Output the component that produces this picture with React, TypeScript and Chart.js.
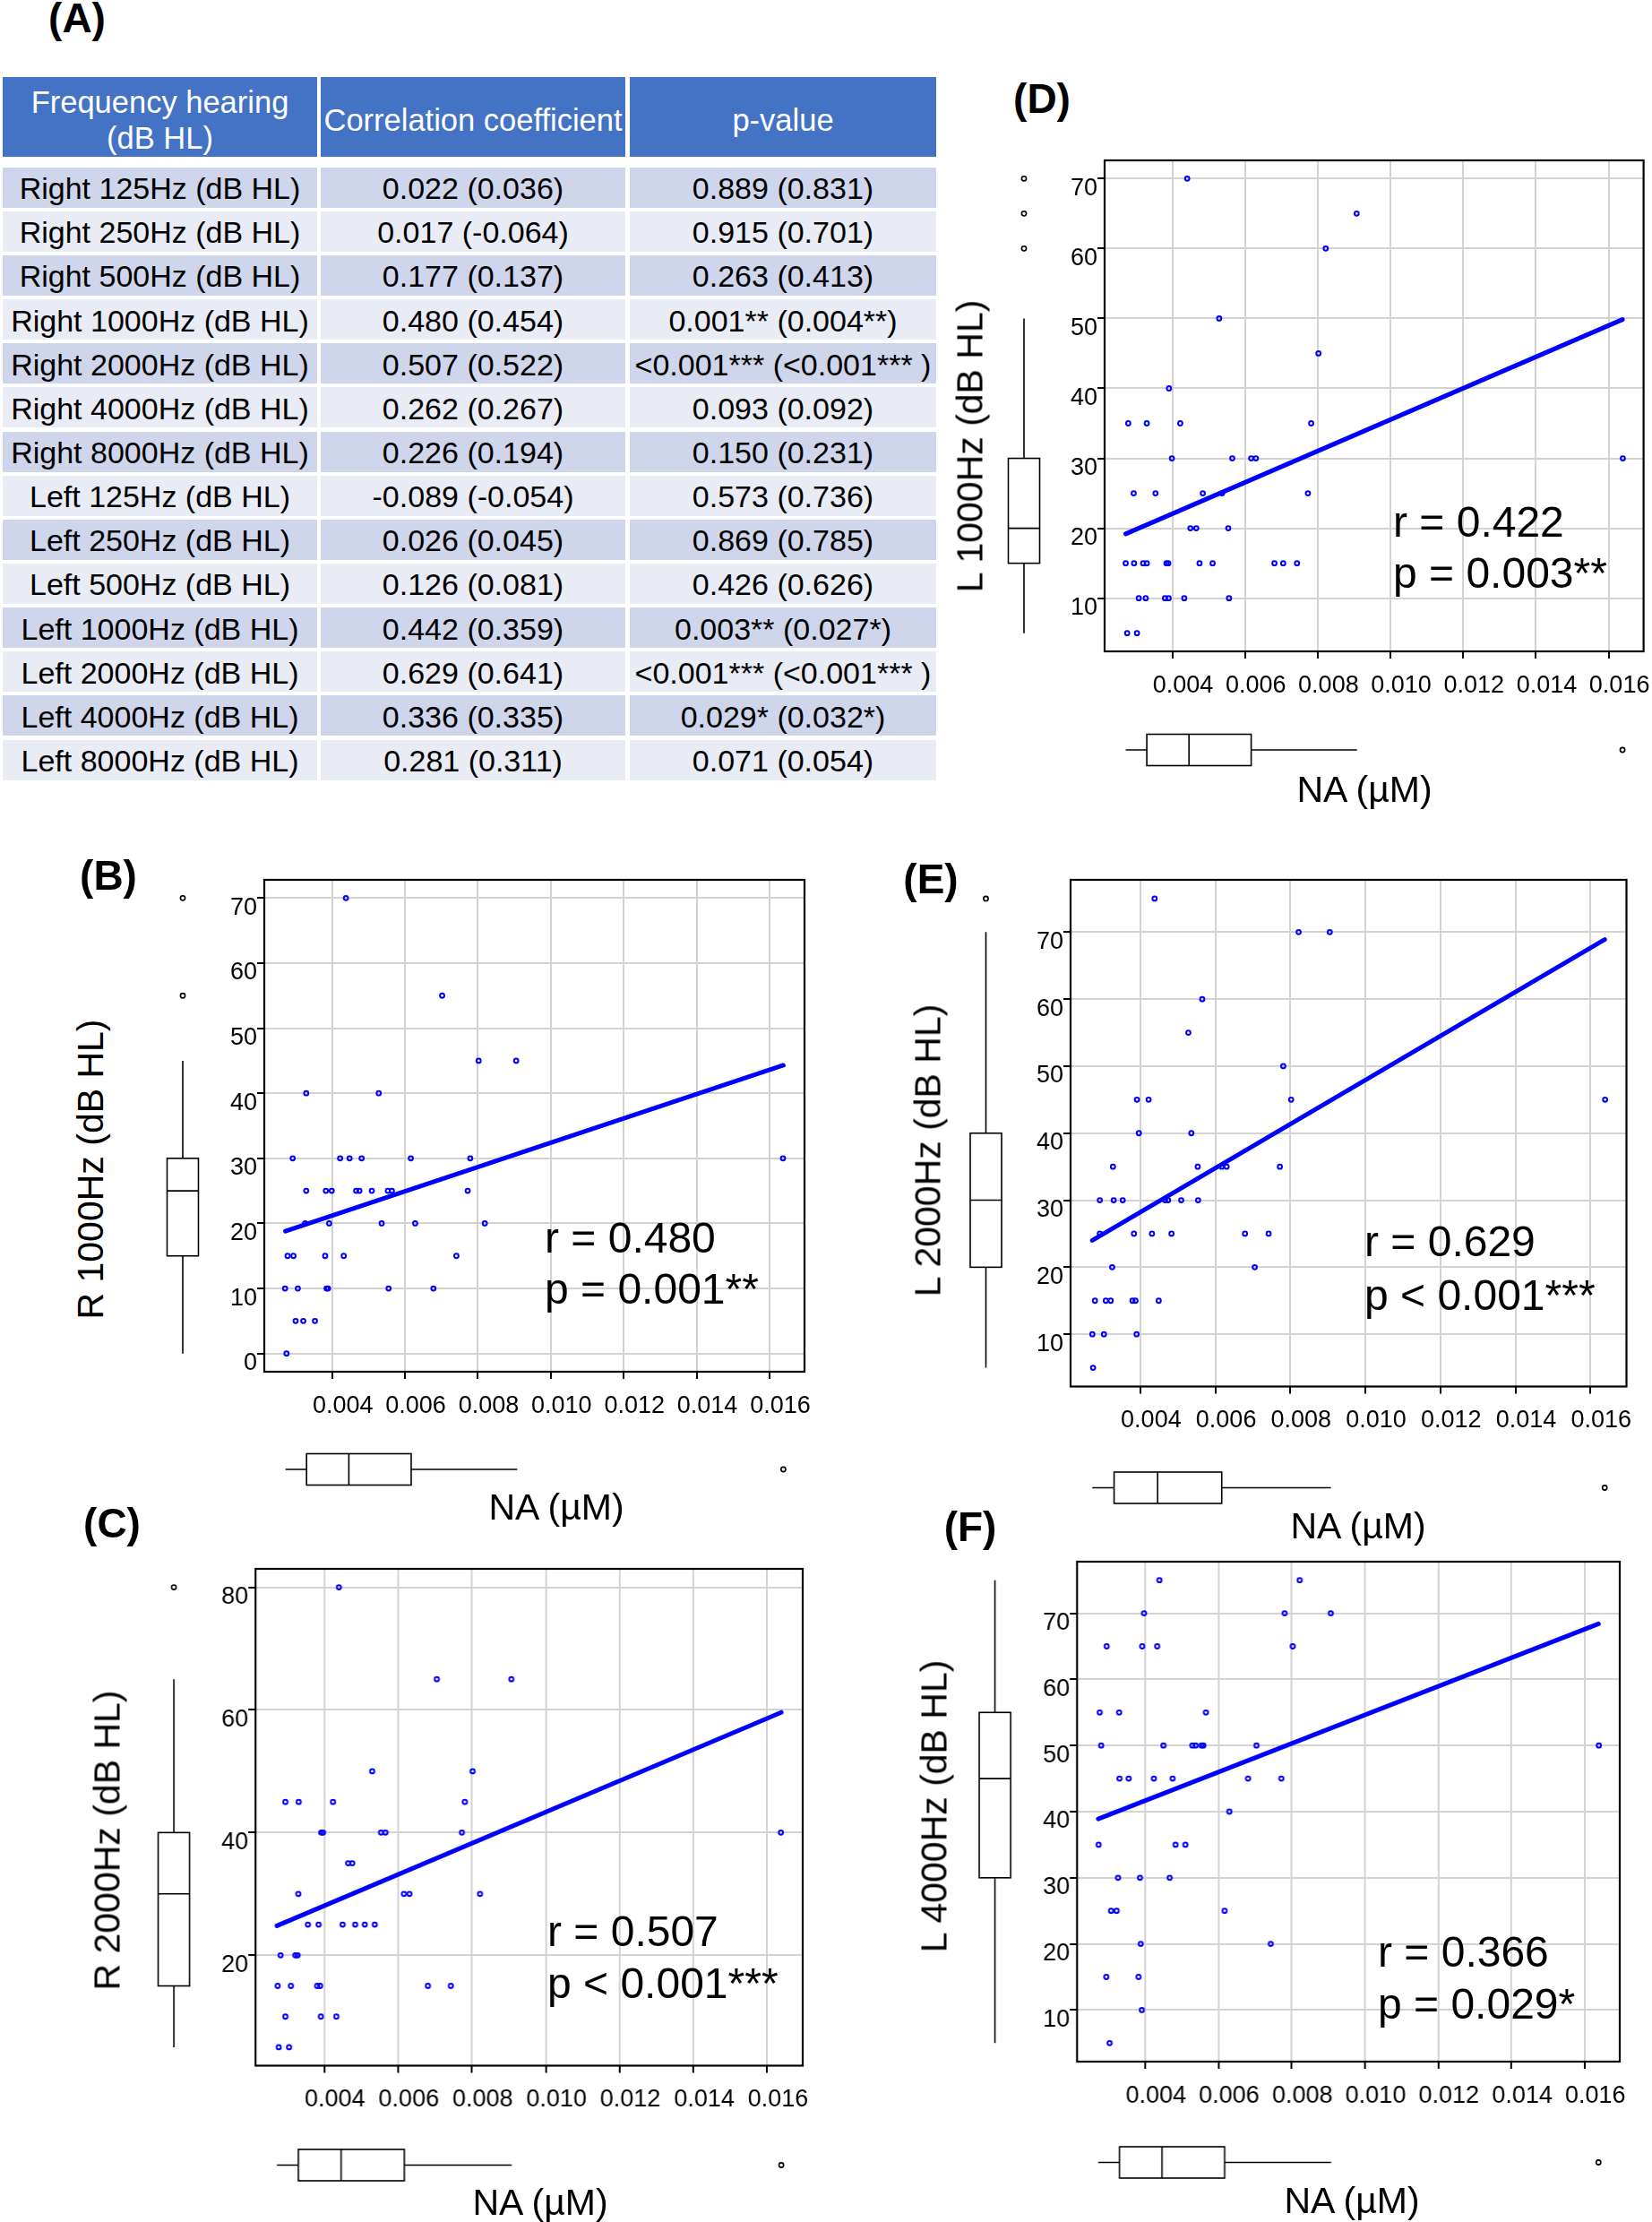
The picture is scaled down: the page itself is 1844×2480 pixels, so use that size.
import React, { useEffect, useRef } from "react";
import { Chart, registerables } from "chart.js";
Chart.register(...registerables);

const FONT = '"Liberation Sans", Arial, Helvetica, sans-serif';
const BLUE = "#0000ff";

// ---------------- Table (A) ----------------
const tableHeaders = ["Frequency hearing", "(dB HL)", "Correlation coefficient", "p-value"];
const frequencyRows = [
  "Right 125Hz (dB HL)", "Right 250Hz (dB HL)", "Right 500Hz (dB HL)", "Right 1000Hz (dB HL)",
  "Right 2000Hz (dB HL)", "Right 4000Hz (dB HL)", "Right 8000Hz (dB HL)", "Left 125Hz (dB HL)",
  "Left 250Hz (dB HL)", "Left 500Hz (dB HL)", "Left 1000Hz (dB HL)", "Left 2000Hz (dB HL)",
  "Left 4000Hz (dB HL)", "Left 8000Hz (dB HL)",
];
const correlationValues = [
  "0.022 (0.036)", "0.017 (-0.064)", "0.177 (0.137)", "0.480 (0.454)", "0.507 (0.522)",
  "0.262 (0.267)", "0.226 (0.194)", "-0.089 (-0.054)", "0.026 (0.045)", "0.126 (0.081)",
  "0.442 (0.359)", "0.629 (0.641)", "0.336 (0.335)", "0.281 (0.311)",
];
const pValues = [
  "0.889 (0.831)", "0.915 (0.701)", "0.263 (0.413)", "0.001** (0.004**)", "<0.001*** (<0.001*** )",
  "0.093 (0.092)", "0.150 (0.231)", "0.573 (0.736)", "0.869 (0.785)", "0.426 (0.626)",
  "0.003** (0.027*)", "<0.001*** (<0.001*** )", "0.029* (0.032*)", "0.071 (0.054)",
];

// ---------------- Shared NA (µM) axis ----------------
const naTickValues = [0.004, 0.006, 0.008, 0.01, 0.012, 0.014, 0.016];
const naAxisRange = [0.00214, 0.01696];
const naBoxStats = [0.00272, 0.0033, 0.00446, 0.00617, 0.00908];
const naBoxOutliers = [0.01638];

// ---------------- Panel B: R 1000Hz ----------------
const naB = [0.00438, 0.00702, 0.00802, 0.00905, 0.00329, 0.00528, 0.00292, 0.00422, 0.00448, 0.00481, 0.00616, 0.00779, 0.01637, 0.00329, 0.00383, 0.00399, 0.00466, 0.00475, 0.00509, 0.00553, 0.00564, 0.00772, 0.00326, 0.00392, 0.00536, 0.00628, 0.00819, 0.00278, 0.00294, 0.00381, 0.00432, 0.00741, 0.00271, 0.00306, 0.00385, 0.00389, 0.00555, 0.00678, 0.003, 0.00321, 0.00353, 0.00275];
const r1000B = [70, 55, 45, 45, 40, 40, 30, 30, 30, 30, 30, 30, 30, 25, 25, 25, 25, 25, 25, 25, 25, 25, 20, 20, 20, 20, 20, 15, 15, 15, 15, 15, 10, 10, 10, 10, 10, 10, 5, 5, 5, 0];
const fitXB = [0.00272, 0.01638];
const fitYB = [18.8, 44.3];
const boxB = [0, 15, 25, 30, 45];
const outB = [55, 70];
const yTicksB = [0, 10, 20, 30, 40, 50, 60, 70];
const yRangeB = [-2.8, 72.8];

// ---------------- Panel C: R 2000Hz ----------------
const naC = [0.0044, 0.00705, 0.00907, 0.0053, 0.00802, 0.00295, 0.00331, 0.00424, 0.00781, 0.00392, 0.00397, 0.00554, 0.00566, 0.00773, 0.01637, 0.00465, 0.00476, 0.0033, 0.00616, 0.00631, 0.00822, 0.00356, 0.00385, 0.0045, 0.00484, 0.0051, 0.00537, 0.00282, 0.00322, 0.00328, 0.00274, 0.0031, 0.00381, 0.00389, 0.00681, 0.00743, 0.00295, 0.00391, 0.00433, 0.00277, 0.00305];
const r2000C = [80, 65, 65, 50, 50, 45, 45, 45, 45, 40, 40, 40, 40, 40, 40, 35, 35, 30, 30, 30, 30, 25, 25, 25, 25, 25, 25, 20, 20, 20, 15, 15, 15, 15, 15, 15, 10, 10, 10, 5, 5];
const fitXC = [0.00272, 0.01638];
const fitYC = [24.8, 59.6];
const boxC = [5, 15, 30, 40, 65];
const outC = [80];
const yTicksC = [20, 40, 60, 80];
const yRangeC = [2, 83];

// ---------------- Panel D: L 1000Hz ----------------
const naD = [0.00441, 0.00907, 0.00822, 0.00529, 0.00802, 0.00391, 0.00279, 0.0033, 0.00422, 0.00782, 0.00399, 0.00565, 0.00617, 0.0063, 0.01639, 0.00294, 0.00354, 0.00484, 0.00537, 0.00773, 0.0045, 0.00466, 0.00554, 0.00272, 0.00295, 0.0032, 0.0033, 0.00384, 0.00389, 0.00475, 0.00511, 0.00681, 0.00705, 0.00743, 0.00308, 0.00327, 0.0038, 0.0039, 0.00433, 0.00556, 0.00276, 0.00303];
const l1000D = [70, 65, 60, 50, 45, 40, 35, 35, 35, 35, 30, 30, 30, 30, 30, 25, 25, 25, 25, 25, 20, 20, 20, 15, 15, 15, 15, 15, 15, 15, 15, 15, 15, 15, 10, 10, 10, 10, 10, 10, 5, 5];
const fitXD = [0.00272, 0.01638];
const fitYD = [19.2, 49.85];
const boxD = [5, 15, 20, 30, 50];
const outD = [60, 65, 70];
const yTicksD = [10, 20, 30, 40, 50, 60, 70];
const yRangeD = [2.4, 72.6];

// ---------------- Panel E: L 2000Hz ----------------
const naE = [0.00438, 0.00822, 0.00905, 0.00565, 0.00528, 0.00781, 0.00391, 0.00422, 0.00802, 0.01639, 0.00396, 0.00536, 0.00327, 0.00553, 0.00617, 0.0063, 0.00772, 0.00292, 0.00329, 0.00353, 0.00466, 0.00474, 0.00509, 0.00554, 0.00292, 0.00383, 0.00431, 0.00483, 0.00679, 0.00742, 0.00325, 0.00705, 0.00279, 0.00308, 0.00321, 0.00379, 0.00387, 0.00449, 0.00272, 0.00303, 0.0039, 0.00274];
const l2000E = [75, 70, 70, 60, 55, 50, 45, 45, 45, 45, 40, 40, 35, 35, 35, 35, 35, 30, 30, 30, 30, 30, 30, 30, 25, 25, 25, 25, 25, 25, 20, 20, 15, 15, 15, 15, 15, 15, 10, 10, 10, 5];
const fitXE = [0.00272, 0.01638];
const fitYE = [24.0, 68.9];
const boxE = [5, 20, 30, 40, 70];
const outE = [75];
const yTicksE = [10, 20, 30, 40, 50, 60, 70];
const yRangeE = [2.2, 77.8];

// ---------------- Panel F: L 4000Hz ----------------
const naF = [0.00439, 0.00822, 0.00397, 0.00781, 0.00907, 0.00295, 0.00392, 0.00433, 0.00803, 0.00276, 0.00329, 0.00566, 0.0028, 0.0045, 0.00529, 0.00538, 0.00554, 0.00559, 0.00704, 0.01639, 0.0033, 0.00355, 0.00424, 0.00475, 0.00681, 0.00772, 0.0063, 0.00273, 0.00483, 0.0051, 0.00326, 0.00386, 0.00467, 0.00307, 0.00322, 0.00617, 0.00388, 0.00743, 0.00294, 0.00382, 0.00391, 0.00303];
const l4000F = [75, 75, 70, 70, 70, 65, 65, 65, 65, 55, 55, 55, 50, 50, 50, 50, 50, 50, 50, 50, 45, 45, 45, 45, 45, 45, 40, 35, 35, 35, 30, 30, 30, 25, 25, 25, 20, 20, 15, 15, 10, 5];
const fitXF = [0.00272, 0.01638];
const fitYF = [38.9, 68.4];
const boxF = [5, 30, 45, 55, 75];
const outF: number[] = [];
const yTicksF = [10, 20, 30, 40, 50, 60, 70];
const yRangeF = [2.2, 77.8];

// ---------------- Panel layout ----------------
type PanelCfg = {
  letter: string; yTitle: string; rText: string; pText: string;
  xs: number[]; ys: number[]; fitX: number[]; fitY: number[];
  yBox: number[]; yOut: number[]; yTicks: number[]; yRange: number[];
  plot: { l: number; t: number; r: number; b: number };
  yBoxX: number; xBoxY: number;
  letterPos: number[]; yTitlePos: number[]; xTitlePos: number[]; stat: number[];
};

const panels: PanelCfg[] = [
  {
    letter: "(B)", yTitle: "R 1000Hz (dB HL)", rText: "r = 0.480", pText: "p = 0.001**",
    xs: naB, ys: r1000B, fitX: fitXB, fitY: fitYB, yBox: boxB, yOut: outB, yTicks: yTicksB, yRange: yRangeB,
    plot: { l: 295, t: 982, r: 898, b: 1531 }, yBoxX: 204, xBoxY: 1640,
    letterPos: [121, 977], yTitlePos: [101, 1305], xTitlePos: [621, 1682], stat: [608, 1382, 1439],
  },
  {
    letter: "(C)", yTitle: "R 2000Hz (dB HL)", rText: "r = 0.507", pText: "p < 0.001***",
    xs: naC, ys: r2000C, fitX: fitXC, fitY: fitYC, yBox: boxC, yOut: outC, yTicks: yTicksC, yRange: yRangeC,
    plot: { l: 285, t: 1750.5, r: 895.5, b: 2305.5 }, yBoxX: 194, xBoxY: 2416,
    letterPos: [125, 1700], yTitlePos: [120, 2054], xTitlePos: [603, 2458], stat: [611, 2156, 2214],
  },
  {
    letter: "(D)", yTitle: "L 1000Hz (dB HL)", rText: "r = 0.422", pText: "p = 0.003**",
    xs: naD, ys: l1000D, fitX: fitXD, fitY: fitYD, yBox: boxD, yOut: outD, yTicks: yTicksD, yRange: yRangeD,
    plot: { l: 1232.5, t: 179, r: 1835, b: 727 }, yBoxX: 1142.5, xBoxY: 837,
    letterPos: [1163, 110], yTitlePos: [1082.5, 498], xTitlePos: [1523, 881], stat: [1555, 583, 640],
  },
  {
    letter: "(E)", yTitle: "L 2000Hz (dB HL)", rText: "r = 0.629", pText: "p < 0.001***",
    xs: naE, ys: l2000E, fitX: fitXE, fitY: fitYE, yBox: boxE, yOut: outE, yTicks: yTicksE, yRange: yRangeE,
    plot: { l: 1195, t: 981.5, r: 1815.5, b: 1547.5 }, yBoxX: 1100.5, xBoxY: 1660,
    letterPos: [1039, 981], yTitlePos: [1036, 1284], xTitlePos: [1516, 1703], stat: [1523, 1386, 1446],
  },
  {
    letter: "(F)", yTitle: "L 4000Hz (dB HL)", rText: "r = 0.366", pText: "p = 0.029*",
    xs: naF, ys: l4000F, fitX: fitXF, fitY: fitYF, yBox: boxF, yOut: outF, yTicks: yTicksF, yRange: yRangeF,
    plot: { l: 1202, t: 1742.5, r: 1807.5, b: 2301 }, yBoxX: 1110.5, xBoxY: 2413,
    letterPos: [1083, 1704], yTitlePos: [1043, 2016], xTitlePos: [1509, 2456], stat: [1538, 2179, 2237],
  },
];

const Y_AXIS_W = 60;
const X_AXIS_H = 60;
const BOX_HALF = 17.5;

const extrasPlugin = {
  id: "extras",
  afterDraw(chart: any, _args: any, opts: any) {
    const { ctx, chartArea: a, scales } = chart;
    const xs = scales.x;
    const ys = scales.y;
    ctx.save();
    // plot frame
    ctx.strokeStyle = "#000";
    ctx.lineWidth = 2.2;
    ctx.strokeRect(a.left, a.top, a.right - a.left, a.bottom - a.top);

    ctx.lineWidth = 1.6;
    const line = (x1: number, y1: number, x2: number, y2: number) => {
      ctx.beginPath(); ctx.moveTo(x1, y1); ctx.lineTo(x2, y2); ctx.stroke();
    };
    const circle = (x: number, y: number) => {
      ctx.beginPath(); ctx.arc(x, y, 2.6, 0, Math.PI * 2); ctx.stroke();
    };
    // vertical boxplot (y variable)
    const vb = opts.yBox.map((v: number) => ys.getPixelForValue(v));
    const cx = opts.yBoxX;
    line(cx, vb[0], cx, vb[4]);
    ctx.fillStyle = "#fff";
    ctx.fillRect(cx - BOX_HALF, vb[3], BOX_HALF * 2, vb[1] - vb[3]);
    ctx.strokeRect(cx - BOX_HALF, vb[3], BOX_HALF * 2, vb[1] - vb[3]);
    line(cx - BOX_HALF, vb[2], cx + BOX_HALF, vb[2]);
    opts.yOut.forEach((v: number) => circle(cx, ys.getPixelForValue(v)));
    // horizontal boxplot (NA)
    const hb = naBoxStats.map((v) => xs.getPixelForValue(v));
    const cy = opts.xBoxY;
    line(hb[0], cy, hb[4], cy);
    ctx.fillRect(hb[1], cy - BOX_HALF, hb[3] - hb[1], BOX_HALF * 2);
    ctx.strokeRect(hb[1], cy - BOX_HALF, hb[3] - hb[1], BOX_HALF * 2);
    line(hb[2], cy - BOX_HALF, hb[2], cy + BOX_HALF);
    naBoxOutliers.forEach((v) => circle(xs.getPixelForValue(v), cy));
    ctx.restore();
  },
};

function Panel({ cfg }: { cfg: PanelCfg }) {
  const ref = useRef<HTMLCanvasElement>(null);
  const cl = cfg.plot.l - 150;
  const ct = cfg.plot.t - 40;
  const cr = Math.min(1844, cfg.plot.r + 30);
  const cb = cfg.xBoxY + 30;
  const cw = cr - cl;
  const ch = cb - ct;

  useEffect(() => {
    const canvas = ref.current!;
    const tickFont = { family: FONT, size: 27 };
    const chart = new Chart(canvas, {
      type: "scatter",
      data: {
        datasets: [
          {
            data: cfg.fitX.map((x, i) => ({ x, y: cfg.fitY[i] })),
            showLine: true,
            borderColor: BLUE,
            borderWidth: 5,
            borderCapStyle: "round",
            pointRadius: 0,
            fill: false,
          } as any,
          {
            data: cfg.xs.map((x, i) => ({ x, y: cfg.ys[i] })),
            showLine: false,
            pointRadius: 2.4,
            pointBorderWidth: 2,
            borderColor: BLUE,
            pointBorderColor: BLUE,
            backgroundColor: "rgba(0,0,0,0)",
            pointBackgroundColor: "rgba(0,0,0,0)",
          } as any,
        ],
      },
      options: {
        responsive: false,
        animation: false,
        devicePixelRatio: 1,
        events: [],
        layout: {
          autoPadding: false,
          padding: {
            left: cfg.plot.l - cl - Y_AXIS_W,
            top: cfg.plot.t - ct,
            right: cr - cfg.plot.r,
            bottom: cb - cfg.plot.b - X_AXIS_H,
          },
        },
        plugins: {
          legend: { display: false },
          tooltip: { enabled: false },
          extras: { yBox: cfg.yBox, yOut: cfg.yOut, yBoxX: cfg.yBoxX - cl, xBoxY: cfg.xBoxY - ct },
        } as any,
        scales: {
          x: {
            type: "linear",
            min: naAxisRange[0],
            max: naAxisRange[1],
            afterFit: (s: any) => { s.height = X_AXIS_H; },
            afterBuildTicks: (s: any) => { s.ticks = naTickValues.map((v) => ({ value: v })); },
            border: { display: false },
            grid: { color: "#d3d3d3", lineWidth: 2, tickColor: "#000", tickLength: 8, tickWidth: 2 },
            ticks: {
              font: tickFont, color: "#000", padding: 14, labelOffset: 12, autoSkip: false,
              maxRotation: 0, minRotation: 0,
              callback: (v: any) => Number(v).toFixed(3),
            },
          },
          y: {
            type: "linear",
            min: cfg.yRange[0],
            max: cfg.yRange[1],
            afterFit: (s: any) => { s.width = Y_AXIS_W; },
            afterBuildTicks: (s: any) => { s.ticks = cfg.yTicks.map((v) => ({ value: v })); },
            border: { display: false },
            grid: { color: "#d3d3d3", lineWidth: 2, tickColor: "#000", tickLength: 8, tickWidth: 2 },
            ticks: {
              font: tickFont, color: "#000", padding: 0, labelOffset: 11, autoSkip: false,
              callback: (v: any) => String(Math.round(Number(v))),
            },
          },
        },
      } as any,
      plugins: [extrasPlugin as any],
    });
    return () => chart.destroy();
  }, []);

  const abs: React.CSSProperties = { position: "absolute", whiteSpace: "nowrap", lineHeight: 1, color: "#000", fontFamily: FONT };
  return (
    <>
      <canvas ref={ref} width={cw} height={ch} style={{ position: "absolute", left: cl, top: ct, width: cw, height: ch }} />
      <div style={{ ...abs, left: cfg.letterPos[0], top: cfg.letterPos[1], transform: "translate(-50%,-50%)", fontSize: 46, fontWeight: "bold" }}>{cfg.letter}</div>
      <div style={{ ...abs, left: cfg.yTitlePos[0], top: cfg.yTitlePos[1], transform: "translate(-50%,-50%) rotate(-90deg)", fontSize: 41 }}>{cfg.yTitle}</div>
      <div style={{ ...abs, left: cfg.xTitlePos[0], top: cfg.xTitlePos[1], transform: "translate(-50%,-50%)", fontSize: 41 }}>NA (µM)</div>
      <div style={{ ...abs, left: cfg.stat[0], top: cfg.stat[1], transform: "translateY(-50%)", fontSize: 48 }}>{cfg.rText}</div>
      <div style={{ ...abs, left: cfg.stat[0], top: cfg.stat[2], transform: "translateY(-50%)", fontSize: 48 }}>{cfg.pText}</div>
    </>
  );
}

const tableCols = [[3, 354], [358, 698], [703, 1045]];
const HEADER_TOP = 86;
const HEADER_H = 89;
const ROW_TOP = 186.7;
const ROW_PITCH = 49.14;
const ROW_H = 45;

function TableA() {
  const cell = (left: number, top: number, w: number, h: number, bg: string, color: string, size: number, pad: number, content: React.ReactNode, key: string) => (
    <div key={key} style={{
      position: "absolute", left, top, width: w, height: h, background: bg, color,
      fontFamily: FONT, fontSize: size, display: "flex", alignItems: "center", justifyContent: "center",
      textAlign: "center", whiteSpace: "nowrap", lineHeight: "40px", paddingTop: pad, boxSizing: "border-box",
    }}>{content}</div>
  );
  const items: React.ReactNode[] = [];
  const hdr = "#4472c4";
  items.push(cell(tableCols[0][0], HEADER_TOP, tableCols[0][1] - tableCols[0][0], HEADER_H, hdr, "#fff", 34.5, 6,
    <div>{tableHeaders[0]}<br />{tableHeaders[1]}</div>, "h0"));
  items.push(cell(tableCols[1][0], HEADER_TOP, tableCols[1][1] - tableCols[1][0], HEADER_H, hdr, "#fff", 34.5, 6, tableHeaders[2], "h1"));
  items.push(cell(tableCols[2][0], HEADER_TOP, tableCols[2][1] - tableCols[2][0], HEADER_H, hdr, "#fff", 34.5, 6, tableHeaders[3], "h2"));
  frequencyRows.forEach((f, i) => {
    const top = ROW_TOP + i * ROW_PITCH;
    const bg = i % 2 === 0 ? "#cfd5ea" : "#e9ebf5";
    const vals = [f, correlationValues[i], pValues[i]];
    vals.forEach((v, j) => {
      items.push(cell(tableCols[j][0], top, tableCols[j][1] - tableCols[j][0], ROW_H, bg, "#000", 34, 2, v, `r${i}c${j}`));
    });
  });
  return (
    <>
      <div style={{ position: "absolute", left: 86, top: 20, transform: "translate(-50%,-50%)", fontFamily: FONT, fontSize: 46, fontWeight: "bold", lineHeight: 1, whiteSpace: "nowrap" }}>(A)</div>
      {items}
    </>
  );
}

export default function App() {
  return (
    <div style={{ position: "absolute", left: 0, top: 0, width: 1844, height: 2480, background: "#fff", overflow: "hidden" }}>
      <TableA />
      {panels.map((p) => <Panel key={p.letter} cfg={p} />)}
    </div>
  );
}
